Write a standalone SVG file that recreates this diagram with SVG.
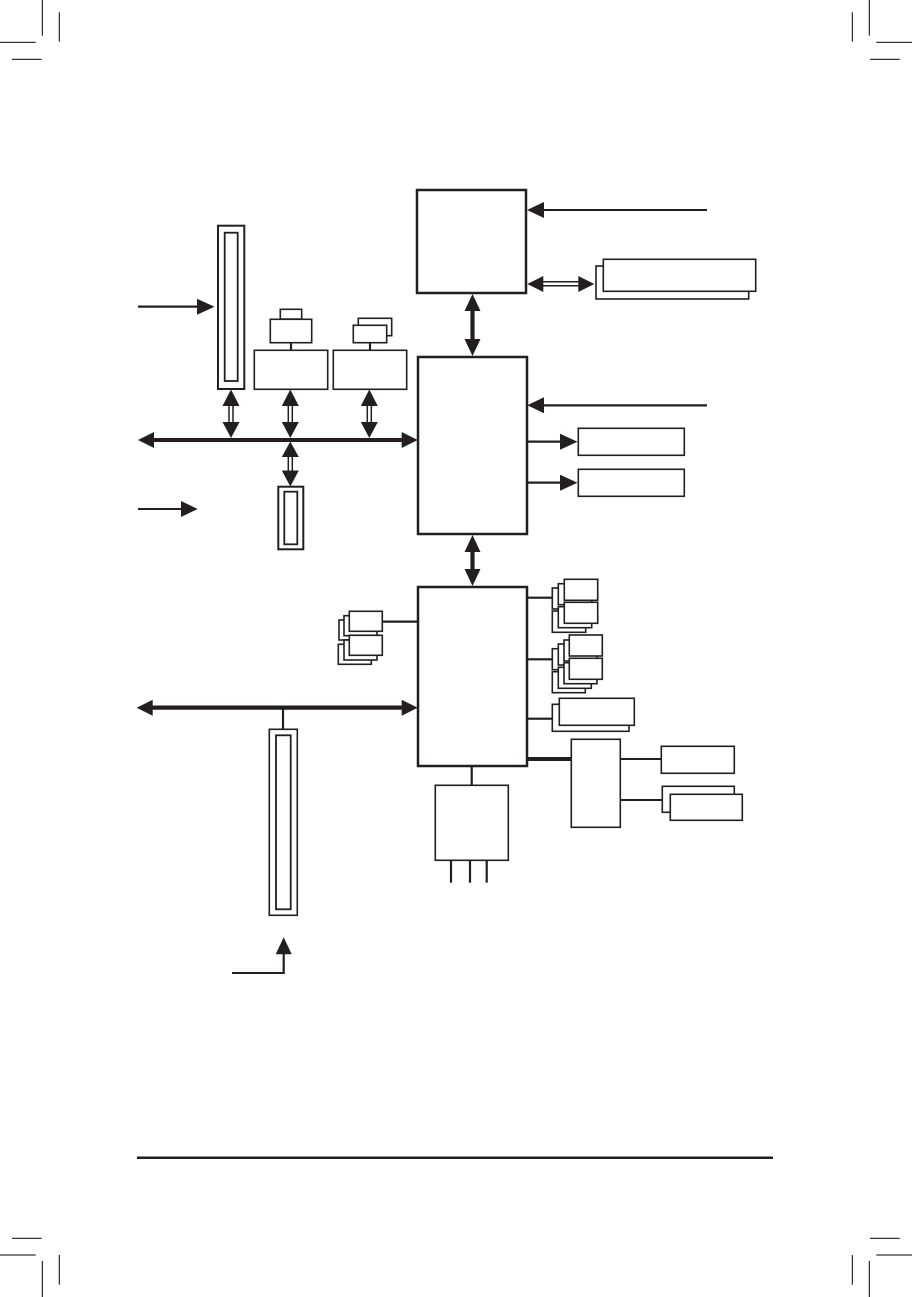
<svg xmlns="http://www.w3.org/2000/svg" width="912" height="1297" viewBox="0 0 912 1297">
<style>
.bg{fill:#fff}
.chip{fill:#fff;stroke:#231f20;stroke-width:2.5}
.box{fill:#fff;stroke:#231f20;stroke-width:1.6}
.slot{fill:#fff;stroke:#231f20;stroke-width:2}
.in{fill:none;stroke:#231f20;stroke-width:1.8}
.ln{fill:none;stroke:#231f20;stroke-width:2.2}
.thin{fill:none;stroke:#231f20;stroke-width:1.5}
.bus{fill:none;stroke:#231f20;stroke-width:4.2}
.ah{fill:#231f20;stroke:none}
.crop{fill:none;stroke:#000;stroke-width:1}
</style>
<rect class="bg" x="0" y="0" width="912" height="1297"/>
<g id="crop-marks">
<line class="crop" x1="42.3" y1="0" x2="42.3" y2="35.7"/>
<line class="crop" x1="59.3" y1="12.3" x2="59.3" y2="41.7"/>
<line class="crop" x1="0" y1="42.3" x2="35.7" y2="42.3"/>
<line class="crop" x1="12" y1="59.3" x2="41.7" y2="59.3"/>
<line class="crop" x1="869.3" y1="0" x2="869.3" y2="35.7"/>
<line class="crop" x1="852.3" y1="12.3" x2="852.3" y2="41.7"/>
<line class="crop" x1="876.3" y1="42.3" x2="912" y2="42.3"/>
<line class="crop" x1="870" y1="59.3" x2="899.7" y2="59.3"/>
<line class="crop" x1="42.3" y1="1261" x2="42.3" y2="1297"/>
<line class="crop" x1="59.3" y1="1255" x2="59.3" y2="1284.7"/>
<line class="crop" x1="0" y1="1255" x2="35.7" y2="1255"/>
<line class="crop" x1="12" y1="1238.3" x2="41.7" y2="1238.3"/>
<line class="crop" x1="869.3" y1="1261" x2="869.3" y2="1297"/>
<line class="crop" x1="852.3" y1="1255" x2="852.3" y2="1284.7"/>
<line class="crop" x1="876.3" y1="1255" x2="912" y2="1255"/>
<line class="crop" x1="870" y1="1238.3" x2="899.7" y2="1238.3"/>
</g>
<g id="connectors">
<!-- CPU input arrow -->
<line class="ln" x1="543" y1="210" x2="707" y2="210"/>
<polygon class="ah" points="527,210 544,202 544,218"/>
<!-- CPU to memory double-line arrow -->
<line class="thin" x1="542" y1="281.7" x2="580" y2="281.7"/>
<line class="thin" x1="542" y1="285.7" x2="580" y2="285.7"/>
<polygon class="ah" points="527.3,284 543.3,276 543.3,292"/>
<polygon class="ah" points="594.3,284 578.3,276 578.3,292"/>
<!-- CPU to NB -->
<line class="bus" x1="472.5" y1="308" x2="472.5" y2="342"/>
<polygon class="ah" points="472.5,294 464.5,311 480.5,311"/>
<polygon class="ah" points="472.5,356 464.5,339 480.5,339"/>
<!-- NB input arrow -->
<line class="ln" x1="543" y1="405.3" x2="707" y2="405.3"/>
<polygon class="ah" points="527.3,405.3 544,397.3 544,413.3"/>
<!-- NB outputs -->
<line class="ln" x1="527" y1="441.7" x2="562" y2="441.7"/>
<polygon class="ah" points="577.5,441.7 560,433.7 560,449.7"/>
<line class="ln" x1="527" y1="482.7" x2="562" y2="482.7"/>
<polygon class="ah" points="577.5,482.7 560,474.7 560,490.7"/>
<!-- arrow into PCIe slot -->
<line class="ln" x1="138" y1="306.7" x2="200" y2="306.7"/>
<polygon class="ah" points="214.5,306.7 197,298.7 197,314.7"/>
<!-- top bus -->
<line class="bus" x1="150" y1="440" x2="405" y2="440"/>
<polygon class="ah" points="138,440 154,432 154,448"/>
<polygon class="ah" points="417.7,440 401.7,432 401.7,448"/>
<!-- double-line vertical arrows to bus -->
<line class="thin" x1="229" y1="404" x2="229" y2="424"/>
<line class="thin" x1="233" y1="404" x2="233" y2="424"/>
<polygon class="ah" points="231,389.5 222.5,406 239.5,406"/>
<polygon class="ah" points="231,438 222.5,422 239.5,422"/>
<line class="thin" x1="288.3" y1="404" x2="288.3" y2="424"/>
<line class="thin" x1="292.3" y1="404" x2="292.3" y2="424"/>
<polygon class="ah" points="290.3,389.5 281.8,406 298.8,406"/>
<polygon class="ah" points="290.3,438 281.8,422 298.8,422"/>
<line class="thin" x1="367.3" y1="404" x2="367.3" y2="424"/>
<line class="thin" x1="371.3" y1="404" x2="371.3" y2="424"/>
<polygon class="ah" points="369.3,389.5 360.8,406 377.8,406"/>
<polygon class="ah" points="369.3,438 360.8,422 377.8,422"/>
<!-- bus to small slot -->
<line class="thin" x1="288.3" y1="455" x2="288.3" y2="473"/>
<line class="thin" x1="292.3" y1="455" x2="292.3" y2="473"/>
<polygon class="ah" points="290.3,441.5 281.8,457 298.8,457"/>
<polygon class="ah" points="290.3,486.5 281.8,470.5 298.8,470.5"/>
<!-- lone arrow -->
<line class="ln" x1="138" y1="509" x2="183" y2="509"/>
<polygon class="ah" points="197.7,509 181,501 181,517"/>
<!-- NB to SB -->
<line class="bus" x1="472.5" y1="548" x2="472.5" y2="573"/>
<polygon class="ah" points="472.5,535 464.5,552 480.5,552"/>
<polygon class="ah" points="472.5,586 464.5,569 480.5,569"/>
<!-- SB connectors -->
<line class="ln" x1="382.3" y1="621.7" x2="418" y2="621.7"/>
<line class="ln" x1="526" y1="597.7" x2="552.3" y2="597.7"/>
<line class="ln" x1="526" y1="659.3" x2="552.3" y2="659.3"/>
<line class="ln" x1="526" y1="718.7" x2="552.3" y2="718.7"/>
<!-- lower bus -->
<line class="bus" x1="150" y1="707.7" x2="405" y2="707.7"/>
<polygon class="ah" points="136.7,707.7 152.7,699.7 152.7,715.7"/>
<polygon class="ah" points="417.7,707.7 401.7,699.7 401.7,715.7"/>
<line class="ln" x1="283" y1="707.7" x2="283" y2="729.3"/>
<!-- arrow up into PCI slot -->
<polyline class="ln" points="232,973 283.7,973 283.7,952"/>
<polygon class="ah" points="283.7,937.3 275.7,954.3 291.7,954.3"/>
<!-- SB to box4 -->
<line class="bus" x1="527" y1="759" x2="571.3" y2="759"/>
<line class="ln" x1="620.3" y1="759" x2="661.3" y2="759"/>
<line class="ln" x1="620.3" y1="800" x2="662.3" y2="800"/>
<!-- SB to box5 -->
<line class="ln" x1="471.7" y1="765.7" x2="471.7" y2="785.3"/>
<line class="ln" x1="451" y1="860.3" x2="451" y2="882.7"/>
<line class="ln" x1="470" y1="860.3" x2="470" y2="882.7"/>
<line class="ln" x1="486.7" y1="860.3" x2="486.7" y2="882.7"/>
<!-- bottom rule -->
<line x1="137" y1="1157.7" x2="773" y2="1157.7" stroke="#231f20" stroke-width="2.5"/>
</g>
<g id="cpu"><rect class="chip" x="417" y="190" width="109" height="103"/></g>
<g id="memory">
<rect class="box" x="596" y="266" width="152.7" height="33"/>
<rect class="box" x="603.3" y="259.3" width="152.4" height="32"/>
</g>
<g id="northbridge"><rect class="chip" x="418" y="357" width="109" height="177"/></g>
<g id="nb-out-1"><rect class="box" x="578.3" y="428.3" width="106" height="27"/></g>
<g id="nb-out-2"><rect class="box" x="578.3" y="469.3" width="106" height="27"/></g>
<g id="pcie-x16">
<rect class="slot" x="218" y="225.7" width="26.3" height="163.3"/>
<rect class="in" x="224.7" y="232.7" width="13" height="148.3"/>
</g>
<g id="device-1">
<rect class="box" x="280.3" y="309.3" width="21.4" height="10"/>
<rect class="box" x="270.3" y="319.3" width="41.4" height="23.4"/>
<line class="ln" x1="291" y1="342.7" x2="291" y2="350.3"/>
<rect class="box" x="254.3" y="350.3" width="73.4" height="39"/>
</g>
<g id="device-2">
<rect class="box" x="358.3" y="318.3" width="33.4" height="17.4"/>
<rect class="box" x="353.3" y="325.3" width="33.4" height="17.4"/>
<line class="ln" x1="370" y1="342.7" x2="370" y2="350.3"/>
<rect class="box" x="333.3" y="350.3" width="73.4" height="39"/>
</g>
<g id="pcie-x1">
<rect class="slot" x="278.3" y="486.7" width="25" height="62.6"/>
<rect class="in" x="284.3" y="491.7" width="13" height="52.6"/>
</g>
<g id="southbridge"><rect class="chip" x="418" y="587" width="109" height="179"/></g>
<g id="sb-left-group">
<rect class="box" x="339" y="620" width="33" height="20"/>
<rect class="box" x="344" y="615.7" width="33" height="20"/>
<rect class="box" x="349.3" y="611.3" width="33" height="20"/>
<rect class="box" x="338.3" y="644.3" width="33" height="20"/>
<rect class="box" x="344" y="640" width="33" height="20"/>
<rect class="box" x="349.3" y="635.3" width="33" height="20"/>
</g>
<g id="sb-group-a">
<rect class="box" x="552.3" y="588" width="33.4" height="21"/>
<rect class="box" x="558.3" y="583.7" width="33.4" height="21"/>
<rect class="box" x="564.3" y="579.3" width="33.4" height="21"/>
<rect class="box" x="552.3" y="611" width="33.4" height="21.3"/>
<rect class="box" x="558.3" y="606.7" width="33.4" height="21"/>
<rect class="box" x="564.3" y="602.3" width="33.4" height="21"/>
</g>
<g id="sb-group-b">
<rect class="box" x="552.3" y="648.7" width="33" height="21"/>
<rect class="box" x="558.3" y="644" width="33" height="21"/>
<rect class="box" x="564" y="640" width="33" height="21"/>
<rect class="box" x="569.3" y="635" width="33" height="21"/>
<rect class="box" x="552.3" y="671.7" width="33" height="21"/>
<rect class="box" x="558.3" y="667.3" width="33" height="21"/>
<rect class="box" x="564" y="662.7" width="33" height="21"/>
<rect class="box" x="569.3" y="658.3" width="33" height="21"/>
</g>
<g id="sb-group-c">
<rect class="box" x="552.3" y="704.3" width="76.7" height="27"/>
<rect class="box" x="559.3" y="698.3" width="75" height="27"/>
</g>
<g id="pci-slot">
<rect class="box" x="269.3" y="729.3" width="28" height="186"/>
<rect class="in" x="276" y="735.3" width="14.7" height="174"/>
</g>
<g id="io-chip"><rect class="box" x="571.3" y="739.3" width="49" height="88"/></g>
<g id="io-out-1"><rect class="box" x="661.3" y="746.3" width="73" height="27"/></g>
<g id="io-out-2">
<rect class="box" x="662.3" y="786.3" width="72" height="26"/>
<rect class="box" x="670.3" y="794.3" width="72" height="26"/>
</g>
<g id="codec"><rect class="box" x="435.3" y="785.3" width="73" height="75"/></g>
</svg>
